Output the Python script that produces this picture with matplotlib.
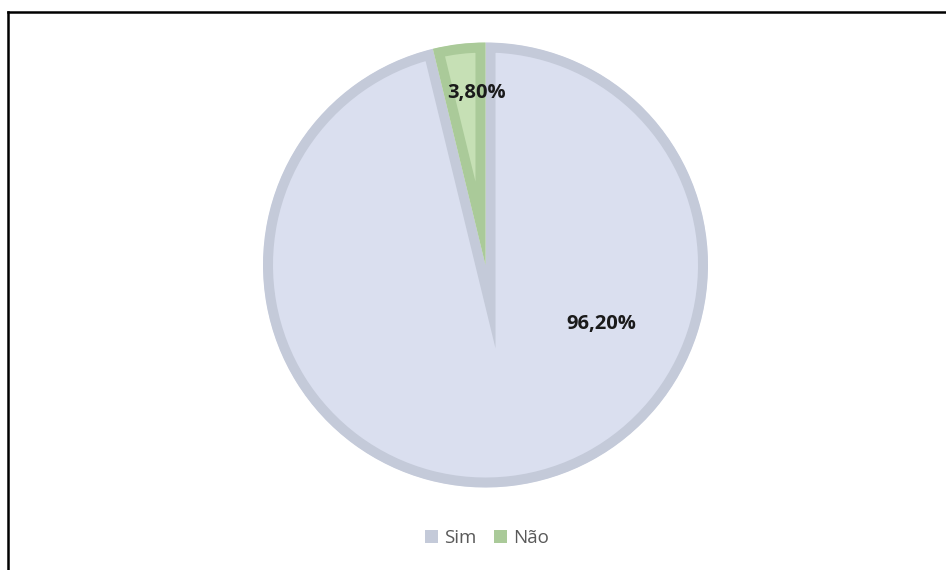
import matplotlib.pyplot as plt
from matplotlib.patches import Patch, Wedge
from matplotlib.lines import Line2D

plt.rcParams['font.family'] = ['Open Sans', 'DejaVu Sans']

labels = ['Sim', 'Não']
values = [96.20, 3.80]
label_txt = ['96,20%', '3,80%']
fills = ['#DADFEF', '#C6E0B5']
edges = ['#C4CAD9', '#AACA99']

W, H = 946, 570
fig = plt.figure(figsize=(W / 100, H / 100), dpi=100)
ax = fig.add_axes([0, 0, 1, 1])

cx, cy, r = 485.5, H - 265, 222.5
wedges, _ = ax.pie(values, startangle=90, counterclock=False, center=(cx, cy), radius=r,
                   colors=fills, frame=True,
                   wedgeprops=dict(linewidth=14.4, joinstyle='miter'))
# stroke drawn inside each slice only (like the original)
for w, ec in zip(wedges, edges):
    w.set_edgecolor(ec)
    clip = Wedge(w.center, w.r, w.theta1, w.theta2, transform=ax.transData)
    w.set_clip_on(True)
    w.set_clip_path(clip)

ax.set_xlim(0, W)
ax.set_ylim(0, H)
ax.set_aspect('auto')
ax.axis('off')

# data labels
ax.text(601, H - 324, label_txt[0], ha='center', va='center', fontsize=14.5, fontweight='bold', color='#1a1a1a')
ax.text(476, H - 93, label_txt[1], ha='center', va='center', fontsize=14.5, fontweight='bold', color='#1a1a1a')

# frame (only top and left visible)
fig.add_artist(Line2D([7.5 / W, 1], [1 - 12 / H, 1 - 12 / H], color='black', lw=1.8))
fig.add_artist(Line2D([7.5 / W, 7.5 / W], [0, 1 - 12 / H], color='black', lw=1.8))

handles = [Patch(facecolor=c, edgecolor='none') for c in edges]
ax.legend(handles, labels, loc='center', bbox_to_anchor=(487 / W, 1 - 538 / H), ncol=2, frameon=False,
          fontsize=13.5, handlelength=0.7, handleheight=0.7, handletextpad=0.35, columnspacing=0.9,
          labelcolor='#595959')

fig.savefig('out.png', dpi=100)
